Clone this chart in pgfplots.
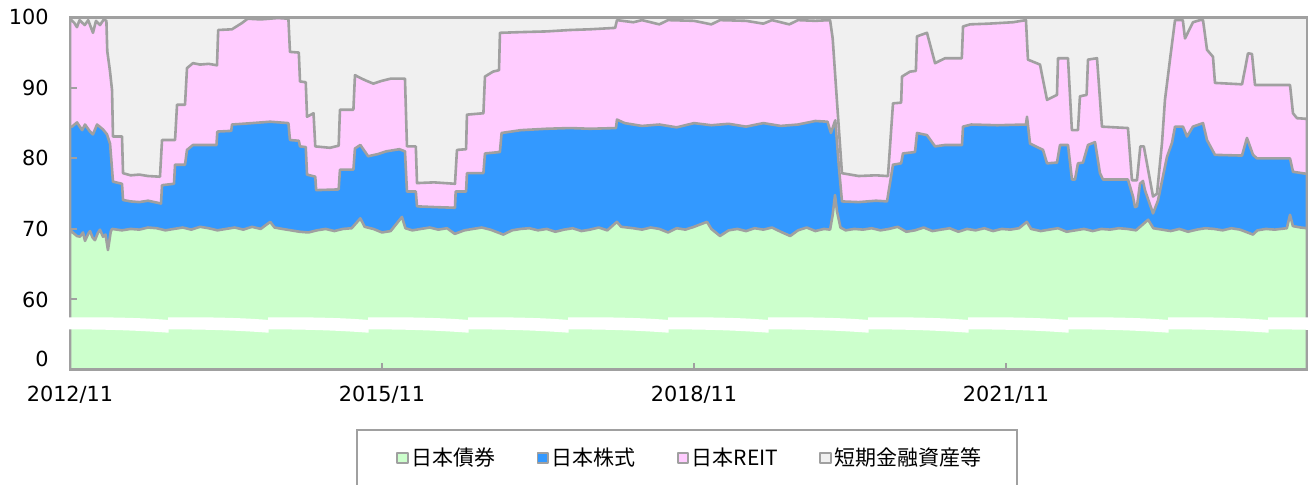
\documentclass[border=0pt]{standalone}
\usepackage{pgfplots}
\pgfplotsset{compat=1.18}
\usepackage{fontspec}
\setmainfont{DejaVu Sans}
\newfontfamily\cjk{Noto Sans CJK JP}
\definecolor{bondgreen}{HTML}{CCFFCC}
\definecolor{stockblue}{HTML}{3399FF}
\definecolor{reitpink}{HTML}{FFCCFF}
\definecolor{restgray}{HTML}{F0F0F0}
\definecolor{linegray}{HTML}{A0A0A0}
\begin{document}
\begin{tikzpicture}
\begin{axis}[
  at={(35pt,57.25pt)}, anchor=south west,
  scale only axis, width=618.5pt, height=176.1pt,
  xmin=0, xmax=142.73, ymin=50.07, ymax=100,
  axis on top,
  axis line style={linegray, line width=1.2pt},
  xtick={0,36,72,108}, xticklabels={2012/11,2015/11,2018/11,2021/11},
  ytick={60,70,80,90,100}, yticklabels={60,70,80,90,100},
  extra y ticks={51.56}, extra y tick labels={0},
  extra y tick style={major tick length=0pt},
  xtick pos=lower, ytick pos=left,
  tick align=inside, major tick length=3.5pt,
  tick style={linegray, line width=1pt},
  tick label style={font=\fontsize{10.4}{12}\selectfont, text=black},
  yticklabel style={xshift=-7.2pt},
  xticklabel style={yshift=-4.5pt},
  every axis plot/.append style={line width=1.3pt, line join=round},
  legend image code/.code={\draw[#1, line width=0.9pt] (0pt,-2.6pt) rectangle (5.2pt,2.6pt);},
  reverse legend,
  legend columns=4,
  legend style={at={(0.2635,-0.2512)}, anchor=west, draw=none, fill=none,
    inner sep=0pt, font=\cjk\fontsize{10.5}{12}\selectfont,
    nodes={inner sep=1.5pt},
    /tikz/every even column/.append style={column sep=19pt}},
]
% 短期金融資産等 (to 100)
\addplot[fill=restgray, draw=linegray] coordinates {(0,100) (142.73,100)} \closedcycle;
\addlegendentry{短期金融資産等}
% 日本REIT (cumulative top)
\addplot[fill=reitpink, draw=linegray] coordinates {
(0,99.8) (0.5,99.2) (0.8,98.6) (1.1,99.6) (1.7,98.9) (2.1,99.6) (2.65,97.8) (3.0,99.5)
(3.46,98.9) (3.9,99.7) (4.2,99.5) (4.3,95.2) (4.6,92.5) (4.85,89.7) (4.96,83.1) (6.0,83.1)
(6.12,77.9) (7,77.6) (8,77.7) (9,77.5) (10.38,77.4) (10.62,82.6) (12.12,82.6) (12.35,87.6)
(13.27,87.6) (13.5,92.8) (14.19,93.5) (15,93.3) (16,93.4) (16.96,93.2) (17.1,98.2) (18.69,98.3)
(19.85,99.2) (20.5,99.8) (22,99.7) (24,99.9) (25.2,99.8) (25.38,95.1) (26.4,95.0) (26.54,90.9)
(27.2,90.8) (27.35,85.9)
(28.1,86.4) (28.3,81.7) (30,81.5) (31.0,81.8) (31.15,86.9) (32.7,86.9) (32.88,91.8) (33.5,91.4)
(34.2,91.0) (35,90.6) (36,91.0) (37,91.3) (38.65,91.3) (38.88,81.7) (39.9,81.7) (40.04,76.5)
(42,76.6) (44.42,76.4) (44.65,81.2) (45.7,81.3) (45.8,86.2) (47.7,86.4) (47.88,91.6) (48.81,92.3)
(49.5,92.5) (49.61,97.8) (52,97.9) (55,98.0) (57.69,98.2) (60,98.3) (62.9,98.5) (63.11,99.6)
(65,99.3) (66,99.6) (68,99.0) (69,99.6) (72,99.5) (74,99.0) (75,99.6) (78,99.5) (80,99.1)
(81,99.6) (83,99.0) (84,99.6) (86,99.5) (87.7,99.6) (88.0,97.0) (88.5,88.0) (89.07,77.9)
(91,77.5) (93,77.6) (94.27,77.5) (94.38,77.5) (94.96,87.8) (95.9,87.9) (96.0,91.6) (96.92,92.3)
(97.6,92.4) (97.73,97.3)
(98.88,97.8) (99.81,93.5) (100.96,94.2) (102.9,94.2) (103.04,98.7) (103.84,99.0) (106,99.1)
(108.8,99.3) (110.3,99.6) (110.53,94.0) (111.92,93.3) (112.73,88.3) (113.88,89.0) (114.0,94.2)
(115.15,94.2) (115.6,84.0) (116.3,84.0) (116.53,88.8) (117.3,89.0) (117.46,94.0) (118.5,94.2)
(119.07,84.5) (122.07,84.3) (122.53,76.9) (123.11,76.9) (123.5,81.7) (123.9,81.7) (124.96,74.6)
(125.42,75.0) (126.0,82.2) (126.34,88.3) (126.92,94.0) (127.5,99.6) (128.4,99.6) (128.65,97.0)
(129.57,99.3) (130.38,99.6) (130.73,99.6) (131.19,95.4) (131.88,94.4) (132.11,90.7) (135.23,90.5)
(135.57,92.6) (135.92,94.9) (136.38,94.8) (136.73,90.4) (140.77,90.4) (141.11,86.4) (141.57,85.7)
(142.73,85.6)
} \closedcycle;
\addlegendentry{日本REIT}
% 日本株式 (cumulative top)
\addplot[fill=stockblue, draw=linegray] coordinates {
(0,84.5) (0.23,84.5) (0.81,85.1) (1.4,84.0) (1.73,84.8) (2.31,83.8) (2.65,83.4) (3.12,84.8)
(3.81,84.1) (4.27,83.4) (4.62,82.1) (4.96,76.7) (6.0,76.4) (6.12,74.1) (7,73.9) (8,73.8)
(9,74.0) (10.5,73.6) (10.62,76.2) (12.0,76.4) (12.12,79.1) (13.27,79.1) (13.5,81.2) (14.19,81.9)
(16.9,81.9) (17.0,83.8) (18.6,83.9) (18.7,84.8) (21,85.0) (23.1,85.2) (25.2,85.0) (25.38,82.6)
(26.4,82.5) (26.54,81.7) (27.2,81.6)
(27.35,77.7) (28.3,77.4) (28.4,75.5) (31.0,75.6) (31.15,78.4) (32.7,78.4) (32.88,81.4) (33.5,81.9)
(34.4,80.3) (35.5,80.6) (36.5,81.0) (38.0,81.3) (38.65,81.0) (38.88,75.3) (39.9,75.3) (40.04,73.2)
(42,73.1) (44.42,73.0) (44.5,75.3) (45.7,75.3) (45.8,77.9) (47.7,77.9) (47.88,80.7) (49.6,80.9)
(49.8,83.6) (52,84.0)
(55,84.2) (57.69,84.3) (60,84.2) (63.0,84.3) (63.11,85.5) (64,85.0) (66,84.6) (68,84.8)
(70,84.4) (72,85.0) (74,84.7) (76,84.9) (78,84.5) (80,85.0) (82,84.6) (84,84.8) (86,85.3)
(87.4,85.2) (87.8,83.6) (88.3,85.4) (88.7,79.0) (89.07,73.9) (91,73.8) (93,74.0) (94.27,73.9)
(94.96,79.1) (95.9,79.3) (96.11,80.7) (97.5,80.9) (97.73,83.6) (98.88,83.3) (99.81,81.7) (100.96,81.9)
(102.92,81.9)
(103.04,84.5) (104,84.8) (107,84.7) (110.3,84.8) (110.42,85.9) (110.77,82.1) (112.27,81.2)
(112.73,79.3) (113.88,79.4) (114.23,81.9) (115.15,81.9) (115.61,77.0) (115.96,77.0) (116.3,79.3)
(116.88,79.4) (117.46,81.9) (118.27,82.3) (118.84,77.9) (119.19,77.0) (122.07,77.0) (122.65,74.6)
(122.88,73.1) (123.11,73.2) (123.46,76.4) (123.8,76.8) (124.03,75.5) (124.96,72.2) (125.53,74.0)
(126.57,80.2) (127.15,82.2) (127.5,84.5) (128.42,84.5) (128.88,83.1) (129.57,84.5) (130.73,85.0)
(131.19,82.6) (132.11,80.5) (135.23,80.4) (135.8,82.9) (136.5,80.5) (136.96,80.0) (140.77,80.0)
(141.11,78.1) (142.73,77.8)
} \closedcycle;
\addlegendentry{日本株式}
% 日本債券
\addplot[fill=bondgreen, draw=linegray] coordinates {
(0,69.9) (0.4,69.4) (0.8,69.0) (1.15,68.9) (1.5,69.5) (1.73,68.3) (2.1,69.3) (2.31,69.7)
(2.6,68.8) (2.88,68.4) (3.2,69.4) (3.46,69.9) (3.81,68.9) (4.1,69.2) (4.38,67.0) (4.7,69.6)
(4.85,70.0) (6,69.8) (7,70.0) (8,69.9) (9,70.2) (10,70.1) (11,69.8) (12,70.0) (13,70.2)
(14,69.9) (15,70.3) (16,70.1) (17,69.8) (18,70.0) (19,70.2) (20,69.9) (21,70.3) (22,70.0)
(23.1,71.0) (23.6,70.2) (24.5,70.0) (25.5,69.8) (26.5,69.6) (27.5,69.5) (28.5,69.8) (29.5,70.0)
(30.5,69.7) (31.5,70.0) (32.5,70.1) (33.5,71.5) (34,70.3) (35,70.0) (36,69.5) (37,69.7)
(38.3,71.7) (38.7,70.1) (39.5,69.8) (40.5,70.0) (41.5,70.2) (42.5,69.9) (43.5,70.1) (44.4,69.3)
(45.5,69.8) (46.5,70.0) (47.5,70.2) (48.5,69.9) (50,69.2) (51,69.8) (52,70.0) (53,70.1)
(54,69.8) (55,70.0) (56,69.6) (57,69.9) (58,70.1) (59,69.7) (60,69.9) (61,70.2) (62,69.8)
(63.1,71.0) (63.6,70.3) (65,70.1) (66,69.9) (67,70.2) (68,70.0) (69,69.5) (70,70.1) (71,69.9)
(72,70.3) (73.5,71.0) (74,70.0) (75,69.0) (76,69.8) (77,70.0) (78,69.7) (79,70.1) (80,69.9)
(81,70.2) (82,69.6) (83.1,69.0) (84,69.8) (85,70.2) (86,69.7) (87,70.0) (87.7,69.9) (88.0,72.0)
(88.27,74.8) (88.5,72.5) (88.9,70.2) (89.5,69.8) (90.5,70.0) (91.5,69.9) (92.5,70.1) (93.5,69.8)
(94.5,70.0) (95.5,70.3) (96.5,69.6) (97.5,69.8) (98.5,70.2) (99.5,69.7) (100.5,69.9) (101.5,70.1)
(102.5,69.6) (103.5,70.0) (104.5,69.8) (105.5,70.1) (106.5,69.7) (107.5,70.0) (108.5,69.9)
(109.5,70.1) (110.4,71.0) (110.9,70.0) (112,69.7) (113,69.9) (114,70.1) (115,69.6) (116,69.8)
(117,70.0) (118,69.7) (119,70.0) (120,69.9) (121,70.1) (122,70.0) (123,69.8) (124.4,71.3)
(125,70.1) (126,69.9) (127,69.7) (128,70.0) (129,69.6) (130,69.9) (131,70.1) (132,70.0)
(133,69.8) (134,70.1) (135,69.9) (136.5,69.2) (137,69.8) (138,70.0) (139,69.9) (140.4,70.1)
(140.77,72.0) (141.1,70.4) (142,70.2) (142.73,70.1)
} \closedcycle;
\addlegendentry{日本債券}
\end{axis}
% axis break band
\foreach \a in {34,84,134,184,234,284,334,384,434,484,534,584,634} {
  \fill[white] (\a pt,83.35pt) .. controls (\a pt+25pt,83.5pt) and (\a pt+40pt,82.9pt) .. (\a pt+50.3pt,82.0pt)
    -- (\a pt+50.3pt,75.65pt) .. controls (\a pt+40pt,76.4pt) and (\a pt+25pt,77.3pt) .. (\a pt,77.35pt) -- cycle;
}
% legend frame
\draw[linegray, line width=1pt] (178.5pt,-10pt) rectangle (508.5pt,27pt);
\pgfresetboundingbox
\path (0,0) rectangle (655pt,242pt);
\end{tikzpicture}
\end{document}
